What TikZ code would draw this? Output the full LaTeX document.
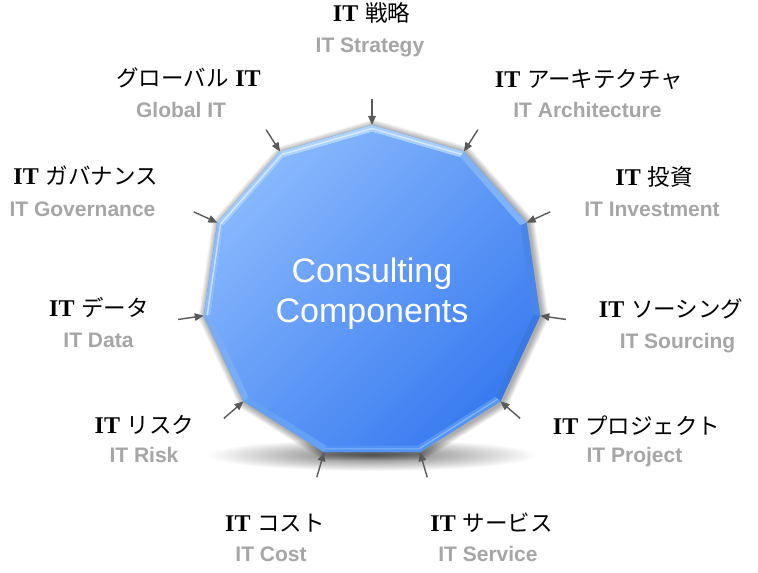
\documentclass[tikz,border=0pt]{standalone}
\usepackage{fontspec}
\setmainfont{Liberation Sans}
\newfontfamily\jpf{Noto Sans CJK JP}
\newfontfamily\itf{Liberation Serif}
\usetikzlibrary{arrows.meta,calc}
\definecolor{labgray}{HTML}{A6A6A6}
\definecolor{arrgray}{HTML}{5A5A5A}
\definecolor{B0}{HTML}{A6CEFF}
\definecolor{B1}{HTML}{80B2F8}
\definecolor{B2}{HTML}{4A86EA}
\definecolor{B3}{HTML}{3A78E2}
\definecolor{B4}{HTML}{5596F4}
\definecolor{B5}{HTML}{5093F4}
\definecolor{B6}{HTML}{64A0F5}
\definecolor{B7}{HTML}{78ACF6}
\definecolor{B8}{HTML}{8DBBFB}
\definecolor{B9}{HTML}{A2CBFF}
\definecolor{B10}{HTML}{ACD3FF}
\definecolor{innertl}{HTML}{88B8FD}
\definecolor{innerbr}{HTML}{3A7CF0}
\newcommand{\itbold}{{\itf\bfseries\fontsize{24}{26}\selectfont IT}}
\newcommand{\jpsp}{\hspace{0.3em}}
\begin{document}
\begin{tikzpicture}[x=1pt,y=1pt,
  jp/.style={anchor=base, font=\fontsize{22.5}{26}\selectfont, text=black, inner sep=0pt},
  en/.style={anchor=base, font=\fontsize{21}{24}\selectfont\bfseries, text=labgray, inner sep=0pt},
  arr/.style={draw=arrgray, line width=1.4pt, -{Triangle[length=9pt,width=7.5pt]}}]
\useasboundingbox (0,0) rectangle (758,573);
\fill[white] (0,0) rectangle (758,573);

\coordinate (c) at (372,281);
\foreach \k in {0,...,10}{
  \coordinate (v\k) at ($(c)+({90-\k*360/11}:170 and 167)$);
  \coordinate (i\k) at ($(c)+({90-\k*360/11}:163 and 160)$);
  \coordinate (m\k) at ($(c)+({90-\k*360/11}:166.5 and 163.5)$);
  \coordinate (a\k) at ($(c)+({90-\k*360/11}:196 and 193)$);
}

% ground shadow
\shade[inner color=black!55, outer color=white] (372,118) ellipse (165 and 16);

% soft shadow around body
\foreach \d in {7,6,5,4,3,2,1}{
  \begin{scope}[shift={(373.5,279.5)}, xscale={(170+\d)/170}, yscale={(167+\d)/167}]
    \fill[black, opacity=0.05] (90:170 and 167)
      \foreach \k in {1,...,10}{ -- ({90-\k*360/11}:170 and 167)} -- cycle;
  \end{scope}
}

% outer body
\fill[B5] (v0) \foreach \k in {1,...,10}{ -- (v\k)} -- cycle;

% bevel strips
\foreach \k in {0,...,10}{
  \pgfmathtruncatemacro\n{mod(\k+1,11)}
  \fill[B\k] (v\k) -- (v\n) -- (i\n) -- (i\k) -- cycle;
}
% highlight on bevel
\draw[white, opacity=0.5, line width=1.5pt, line join=round] (m8) -- (m9) -- (m10) -- (m0) -- (m1);
\draw[white, opacity=0.3, line width=1.2pt, line join=round] (m4) -- (m5) -- (m6);

% inner face
\shade[top color=innertl, bottom color=innerbr, shading angle=45]
  (i0) \foreach \k in {1,...,10}{ -- (i\k)} -- cycle;

\node[font=\fontsize{34}{40}\selectfont, text=white, align=center] (ctr) at (372,279) {Consulting\\Components};

% arrows
\foreach \k in {0,...,10}{
  \draw[arr] (a\k) -- (v\k);
}

% labels
\node[jp] (j0) at (371.5,551) {\itbold\jpsp{\jpf 戦略}};
\node[en] (e0) at (370,520) {IT Strategy};
\node[jp] (j1) at (589,485) {\itbold\jpsp{\jpf アーキテクチャ}};
\node[en] (e1) at (587.5,455) {IT Architecture};
\node[jp] (j2) at (654,387) {\itbold\jpsp{\jpf 投資}};
\node[en] (e2) at (652,356) {IT Investment};
\node[jp] (j3) at (671,255) {\itbold\jpsp{\jpf ソーシング}};
\node[en] (e3) at (677.5,224) {IT Sourcing};
\node[jp] (j4) at (636.5,138) {\itbold\jpsp{\jpf プロジェクト}};
\node[en] (e4) at (634.5,110) {IT Project};
\node[jp] (j5) at (491.5,41) {\itbold\jpsp{\jpf サービス}};
\node[en] (e5) at (488,11) {IT Service};
\node[jp] (j6) at (275,41) {\itbold\jpsp{\jpf コスト}};
\node[en] (e6) at (271,11) {IT Cost};
\node[jp] (j7) at (144.5,139) {\itbold\jpsp{\jpf リスク}};
\node[en] (e7) at (144,110) {IT Risk};
\node[jp] (j8) at (99,256) {\itbold\jpsp{\jpf データ}};
\node[en] (e8) at (98.5,225) {IT Data};
\node[jp] (j9) at (85.5,388) {\itbold\jpsp{\jpf ガバナンス}};
\node[en] (e9) at (82.5,356) {IT Governance};
\node[jp] (j10) at (188.5,486) {{\jpf グローバル}\jpsp\itbold};
\node[en] (e10) at (181,455) {Global IT};
\end{tikzpicture}
\end{document}
